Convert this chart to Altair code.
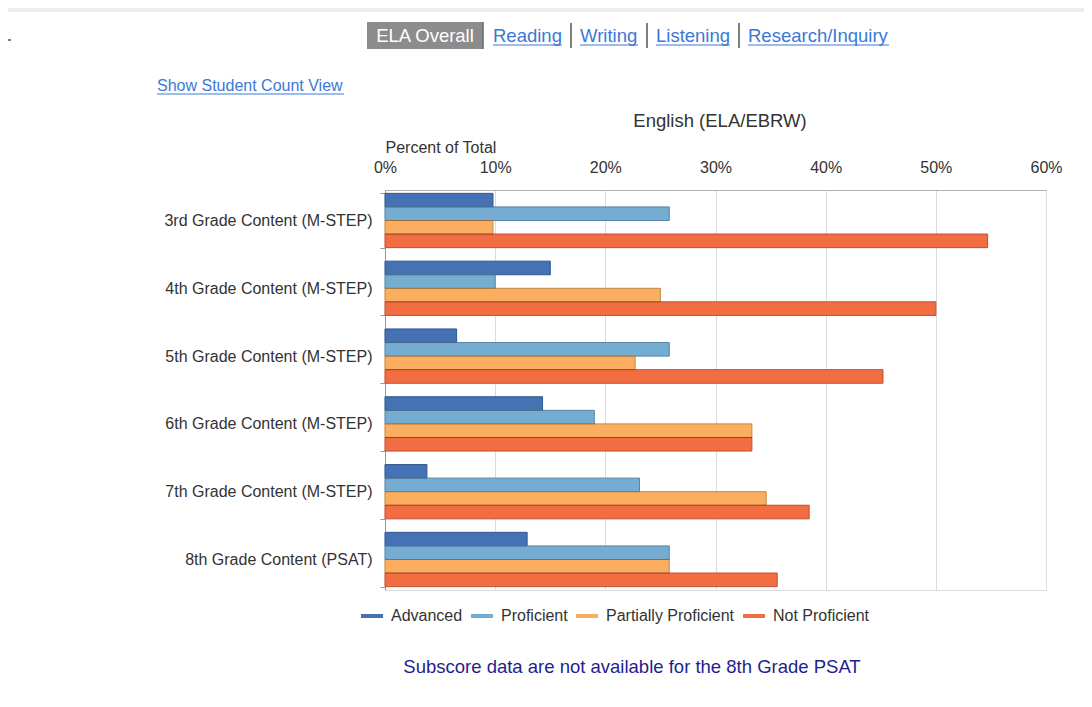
import altair as alt
import pandas as pd

grades = [
    "3rd Grade Content (M-STEP)",
    "4th Grade Content (M-STEP)",
    "5th Grade Content (M-STEP)",
    "6th Grade Content (M-STEP)",
    "7th Grade Content (M-STEP)",
    "8th Grade Content (PSAT)",
]
levels = ["Advanced", "Proficient", "Partially Proficient", "Not Proficient"]
advanced = [9.8, 15.0, 6.5, 14.3, 3.8, 12.9]
proficient = [25.8, 10.0, 25.8, 19.0, 23.1, 25.8]
partially = [9.8, 25.0, 22.7, 33.3, 34.6, 25.8]
not_proficient = [54.7, 50.0, 45.2, 33.3, 38.5, 35.6]
colors = ["#4472b5", "#74acd2", "#fcae60", "#f36d42"]
x_ticks = [0, 10, 20, 30, 40, 50, 60]

title_text = "English (ELA/EBRW)"
axis_title = "Percent of Total"
tabs = ["Reading", "Writing", "Listening", "Research/Inquiry"]
active_tab = "ELA Overall"
link_text = "Show Student Count View"
footer_text = "Subscore data are not available for the 8th Grade PSAT"

rows = []
for lvl, vals in zip(levels, [advanced, proficient, partially, not_proficient]):
    for g, v in zip(grades, vals):
        rows.append({"grade": g, "level": lvl, "pct": v})
df = pd.DataFrame(rows)

FONT = "Liberation Sans"
LINK = "#3c78d8"


def legend_props(visible):
    props = dict(
        title=None,
        orient="none",
        direction="horizontal",
        legendX=-26,
        legendY=413,
        symbolType="stroke",
        symbolStrokeWidth=4,
        symbolSize=484,
        labelFontSize=16,
        labelFont=FONT,
        labelColor="#333333",
        labelOffset=6,
        columnPadding=0,
        labelLimit=400,
        labelOpacity=1 if visible else 0,
        symbolOpacity=1 if visible else 0,
    )
    if not visible:
        props["labelExpr"] = "''"
    return props


y_enc = alt.Y(
    "grade:N",
    sort=grades,
    scale=alt.Scale(paddingInner=0.2, paddingOuter=0.05),
    axis=alt.Axis(
        title=None,
        labelFontSize=16,
        labelColor="#333333",
        labelFont=FONT,
        labelPadding=8,
        tickBand="extent",
        tickSize=5,
        tickColor="#999999",
        domainColor="#999999",
        grid=False,
        labelLimit=400,
    ),
)
yoff_enc = alt.YOffset("level:N", sort=levels, scale=alt.Scale(paddingInner=0, paddingOuter=0))
x_enc = alt.X(
    "pct:Q",
    scale=alt.Scale(domain=[0, 60], nice=False),
    axis=alt.Axis(
        orient="top",
        values=x_ticks,
        labelExpr="datum.value + '%'",
        labelFontSize=16,
        labelColor="#333333",
        labelFont=FONT,
        labelFlush=False,
        ticks=False,
        labelPadding=15,
        domainColor="#b0b0b0",
        gridColor="#dcdcdc",
        title=axis_title,
        titleFont=FONT,
        titleFontSize=16,
        titleFontWeight="normal",
        titleColor="#333333",
        titleAnchor="start",
        titleAlign="left",
        titleBaseline="middle",
        titleX=0,
        titleY=-43,
    ),
)

bars = alt.Chart(df).mark_bar(strokeWidth=1).encode(
    x=x_enc,
    y=y_enc,
    yOffset=yoff_enc,
    color=alt.Color(
        "level:N",
        sort=levels,
        scale=alt.Scale(domain=levels, range=colors),
        legend=alt.Legend(**legend_props(False)),
    ),
    stroke=alt.Stroke(
        "level:N",
        sort=levels,
        scale=alt.Scale(domain=levels, range=colors),
        legend=alt.Legend(**legend_props(True)),
    ),
)

outline = alt.Chart(df).mark_bar(fillOpacity=0, stroke="#000000", strokeOpacity=0.22, strokeWidth=1).encode(
    x="pct:Q", y=alt.Y("grade:N", sort=grades), yOffset=alt.YOffset("level:N", sort=levels)
)

one = pd.DataFrame({"k": [0]})


def txt(text, x, y, size, color, align="left", baseline="middle"):
    return alt.Chart(one).mark_text(
        text=text, font=FONT, fontSize=size, color=color, align=align, baseline=baseline
    ).encode(x=alt.value(x), y=alt.value(y))


def rule(x, x2, y, y2, color, width):
    return alt.Chart(one).mark_rule(color=color, strokeWidth=width).encode(
        x=alt.value(x), x2=alt.value(x2), y=alt.value(y), y2=alt.value(y2)
    )


layers = [bars, outline]

# top grey band
layers.append(alt.Chart(one).mark_rect(color="#eeeeee").encode(
    x=alt.value(-377), x2=alt.value(699), y=alt.value(-182), y2=alt.value(-178)))

# tab bar
layers.append(alt.Chart(one).mark_rect(color="#8c8c8c").encode(
    x=alt.value(-18), x2=alt.value(98), y=alt.value(-168), y2=alt.value(-141)))
layers.append(rule(98, 98, -168, -141, "#666666", 1.5))
layers.append(txt(active_tab, 40, -154, 18.5, "#ffffff", align="center"))

tab_x = [108, 195, 271, 363]
tab_w = [69, 58, 74, 141]
for t, tx, tw in zip(tabs, tab_x, tab_w):
    layers.append(txt(t, tx, -154, 18.5, LINK))
    layers.append(rule(tx, tx + tw, -145, -145, LINK, 1))
for sx in [186, 262, 354]:
    layers.append(rule(sx, sx, -167, -142, "#555555", 1.5))

# link
layers.append(txt(link_text, -228, -104, 16, LINK))
layers.append(rule(-228, -41, -96, -96, LINK, 1))

# stray dash
layers.append(rule(-377, -374, -150, -150, "#000000", 1))

# chart title
layers.append(txt(title_text, 335, -69, 18.5, "#333333", align="center"))

# footer
layers.append(txt(footer_text, 247, 477, 18.5, "#1e1e90", align="center"))

chart = alt.layer(*layers).resolve_scale(color="independent").properties(
    width=661,
    height=400,
    padding={"left": 377, "top": 182, "right": 38, "bottom": 98},
    autosize=alt.AutoSizeParams(type="none"),
).configure_view(stroke=None).configure(background="white")

chart.save("out.html", embed_options={"renderer": "svg", "actions": False})
